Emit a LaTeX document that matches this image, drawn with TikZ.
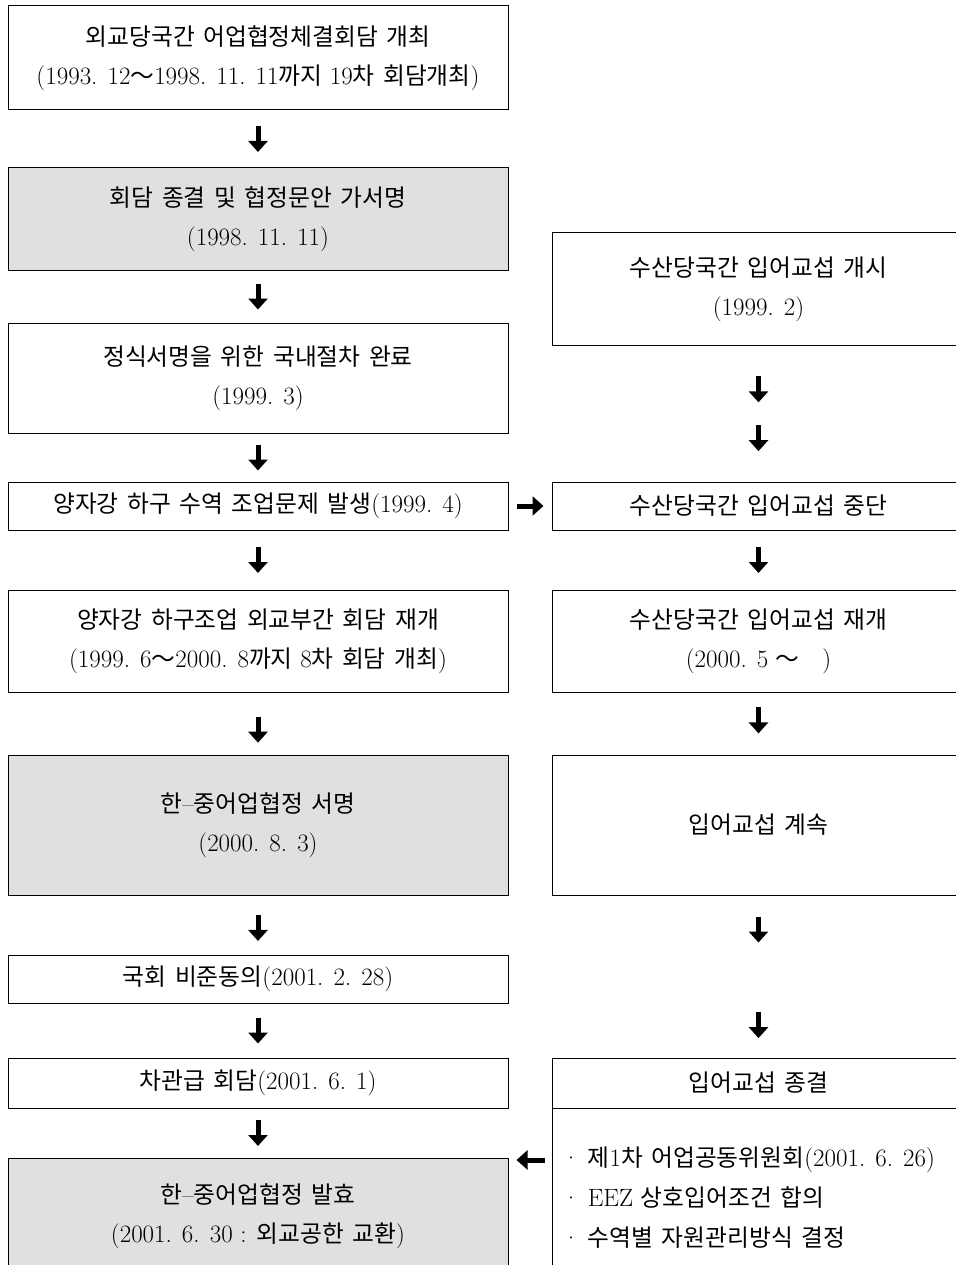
\documentclass[tikz,border=0pt]{standalone}
\usepackage{fontspec}
\setmainfont{Latin Modern Roman}
\newfontfamily\kr{Noto Sans CJK KR}[Scale=0.95,WordSpace=1.6]
\usetikzlibrary{arrows.meta,calc}
\tikzset{
  box/.style={draw=black,line width=1pt,inner sep=0pt,align=center,
    font=\fontsize{25}{39}\selectfont},
  lbox/.style={box,minimum width=500pt},
  rbox/.style={box,minimum width=413pt},
  shade/.style={fill=black!12},
  arr/.style={line width=5pt,-{Triangle[width=19pt,length=11pt]}},
  txt/.style={inner sep=0pt,align=left,font=\fontsize{25}{40}\selectfont}
}
\newcommand{\varr}[3]{\draw[arr] ($(#1.south)!#3!(#2.north)+(0,-13)$) -- ++(0,26);}
\begin{document}
\begin{tikzpicture}[x=1pt,y=-1pt]
\useasboundingbox (0,0) rectangle (955,1265);
% left column
\node[lbox,minimum height=104pt] (L1) at (258,58)
  {{\kr 외교당국간 어업협정체결회담 개최}\\(1993. 12{\kr ～}1998. 11. 11{\kr 까지} 19{\kr 차 회담개최})};
\node[lbox,shade,minimum height=102pt] (L2) at (258,219)
  {{\kr 회담 종결 및 협정문안 가서명}\\(1998. 11. 11)};
\node[lbox,minimum height=110pt] (L3) at (258,378)
  {{\kr 정식서명을 위한 국내절차 완료}\\(1999. 3)};
\node[lbox,minimum height=48pt] (L4) at (258,506)
  {{\kr 양자강 하구 수역 조업문제 발생}(1999. 4)};
\node[lbox,minimum height=102pt] (L5) at (258,641)
  {{\kr 양자강 하구조업 외교부간 회담 재개}\\(1999. 6{\kr ～}2000. 8{\kr 까지} 8{\kr 차 회담 개최})};
\node[lbox,shade,minimum height=140pt] (L6) at (258,825)
  {{\kr 한}--{\kr 중어업협정 서명}\\(2000. 8. 3)};
\node[lbox,minimum height=48pt] (L7) at (258,979)
  {{\kr 국회 비준동의}(2001. 2. 28)};
\node[lbox,minimum height=50pt] (L8) at (258,1083)
  {{\kr 차관급 회담}(2001. 6. 1)};
\node[lbox,shade,minimum height=116pt] (L9) at (258,1216)
  {{\kr 한}--{\kr 중어업협정 발효}\\(2001. 6. 30 : {\kr 외교공한 교환})};
% right column
\node[rbox,minimum height=113pt] (R1) at (758.5,289)
  {{\kr 수산당국간 입어교섭 개시}\\(1999. 2)};
\node[rbox,minimum height=48pt] (R2) at (758.5,506)
  {{\kr 수산당국간 입어교섭 중단}};
\node[rbox,minimum height=102pt] (R3) at (758.5,641)
  {{\kr 수산당국간 입어교섭 재개}\\(2000. 5 {\kr ～}\ \ \ )};
\node[rbox,minimum height=140pt] (R4) at (758.5,825)
  {{\kr 입어교섭 계속}};
\node[rbox,minimum height=50pt] (R5a) at (758.5,1083)
  {{\kr 입어교섭 종결}};
\node[rbox,minimum height=166pt] (R5b) at (758.5,1191) {};
\node[txt,anchor=west] (R5t) at (562,1198)
  {·\ {\kr 제}1{\kr 차 어업공동위원회}(2001. 6. 26)\\·\ EEZ {\kr 상호입어조건 합의}\\·\ {\kr 수역별 자원관리방식 결정}};
% left arrows
\varr{L1}{L2}{.5}
\varr{L2}{L3}{.5}
\varr{L3}{L4}{.5}
\varr{L4}{L5}{.5}
\varr{L5}{L6}{.6}
\varr{L6}{L7}{.55}
\varr{L7}{L8}{.5}
\varr{L8}{L9}{.5}
% right arrows
\varr{R1}{R2}{.32}
\varr{R1}{R2}{.68}
\varr{R2}{R3}{.5}
\varr{R3}{R4}{.45}
\varr{R4}{R5a}{.21}
\varr{R4}{R5a}{.8}
% horizontal arrows
\draw[arr] ([xshift=8pt]L4.east) -- ([xshift=-8pt]R2.west);
\draw[arr] ([xshift=-7pt,yshift=31pt]R5b.west) -- ([xshift=8pt,yshift=56pt]L9.east);
\end{tikzpicture}
\end{document}
